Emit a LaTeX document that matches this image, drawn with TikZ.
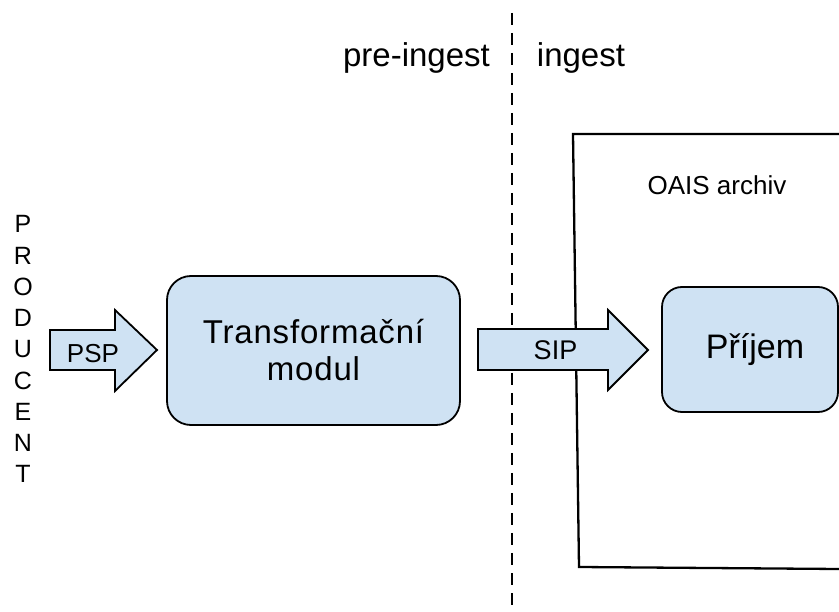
\documentclass[tikz,border=0pt]{standalone}
\usepackage{fontspec}
\setmainfont{Liberation Sans}
\newfontfamily\spacedfont[LetterSpace=2.5]{Liberation Sans}
\definecolor{boxblue}{HTML}{CFE2F3}
\begin{document}
\begin{tikzpicture}[x=1pt,y=-1pt,
  roundbox/.style={draw=black, line width=1.8pt, fill=boxblue, rounded corners=24pt, align=center, inner sep=0pt},
  blockarrow/.style={draw=black, line width=1.8pt, fill=boxblue, line join=miter},
  bigtext/.style={font=\fontsize{33}{37}\selectfont},
  smalltext/.style={font=\fontsize{26}{30}\selectfont},
  lettertext/.style={font=\fontsize{25}{30}\selectfont, anchor=base, inner sep=0pt}]
\useasboundingbox (0,0) rectangle (839,612);

% dashed divider
\draw[line width=2.8pt, dash pattern=on 12pt off 8pt] (512,13) -- (512,612);
\node[bigtext, anchor=base, inner sep=0pt] (pre) at (416.5,67) {pre-ingest};
\node[bigtext, anchor=base, inner sep=0pt] (ing) at (581,67) {ingest};

% OAIS archive frame
\draw[line width=2.3pt, line join=miter] (839,134) -- (573,134) -- (579,567) -- (839,569);
\node[smalltext, anchor=base, inner sep=0pt] (oais) at (717,195) {OAIS archiv};

% producent
\foreach \l [count=\i from 0] in {P,R,O,D,U,C,E,N,T}{
  \node[lettertext] (prod\i) at (23,233+31.25*\i) {\l};
}

% PSP arrow
\draw[blockarrow] (50,330) -- (115,330) -- (115,310) -- (157,350) -- (115,391) -- (115,370) -- (50,370) -- cycle;
\node[smalltext, anchor=base, inner sep=0pt] (psp) at (93,363) {PSP};

% transformation module
\node[roundbox, font=\spacedfont\fontsize{33}{37}\selectfont, minimum width=293pt, minimum height=149pt] (tm) at (313.5,350.5) {Transformační\\modul};

% SIP arrow
\draw[blockarrow] (478,329) -- (608,329) -- (608,310) -- (648,350) -- (608,390) -- (608,370) -- (478,370) -- cycle;
\node[font=\fontsize{27}{30}\selectfont, anchor=base, inner sep=0pt] (sip) at (555.5,360) {SIP};

% Prijem
\node[roundbox, font=\fontsize{34}{38}\selectfont, rounded corners=20pt, minimum width=176pt, minimum height=125pt] (pr) at (750,349.5) {\hspace*{10pt}Příjem};
\end{tikzpicture}
\end{document}
